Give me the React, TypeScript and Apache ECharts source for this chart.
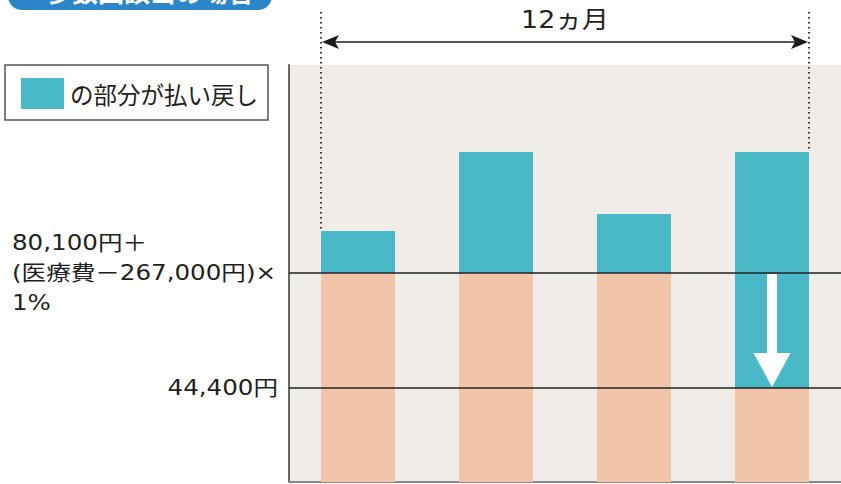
import React, { useEffect, useRef } from "react";
import * as echarts from "echarts";

// Schematic heights (arbitrary units, 0 = plot bottom)
const months = ["A", "B", "C", "D"];
const selfPay = [209, 209, 209, 94]; // peach part (amount you pay)
const refund = [42, 121, 59, 236]; // teal part (refunded)
const limitLevels = [209, 94];
const limitLabels = ["80,100円＋\n(医療費－267,000円)×\n1%", "44,400円"];
const spanLabel = "12ヵ月";
const legendLabel = "の部分が払い戻し";
const badgeLabel = "多数回該当の場合";

const TEAL = "#49b9c7";
const PEACH = "#f2c4a9";
const BG = "#f0ede8";
const TXT = "#231f20";
const FONT = "'DejaVu Sans', 'Noto Sans CJK JP', sans-serif";
const CJK = "'Noto Sans CJK JP', sans-serif";
const BAR_W = 74;

export default function App() {
  const ref = useRef<HTMLDivElement>(null);
  useEffect(() => {
    if (!ref.current) return;
    const chart = echarts.init(ref.current, undefined, { renderer: "svg" });
    chart.setOption({
      animation: false,
      backgroundColor: "#ffffff",
      grid: {
        left: 289,
        right: 0,
        top: 65,
        bottom: 2,
        show: true,
        backgroundColor: BG,
        borderWidth: 0,
      },
      xAxis: {
        type: "category",
        data: months,
        axisLine: { show: true, lineStyle: { color: "#8a8a8a", width: 2 } },
        axisTick: { show: false },
        axisLabel: { show: false },
      },
      yAxis: {
        type: "value",
        min: 0,
        max: 417,
        axisLine: { show: true, lineStyle: { color: "#666", width: 2 } },
        axisTick: { show: false },
        axisLabel: { show: false },
        splitLine: { show: false },
      },
      series: [
        {
          type: "bar",
          stack: "t",
          barWidth: BAR_W,
          data: selfPay,
          itemStyle: { color: PEACH },
          z: 2,
        },
        {
          type: "bar",
          stack: "t",
          barWidth: BAR_W,
          data: refund,
          itemStyle: { color: TEAL },
          z: 2,
          markLine: {
            silent: true,
            symbol: ["none", "none"],
            label: { show: false },
            lineStyle: { color: "#222", width: 1.5, type: "solid" },
            data: limitLevels.map((v) => ({ yAxis: v })),
            z: 5,
          },
        },
      ],
    });

    const px = (i: number, v: number) =>
      chart.convertToPixel({ gridIndex: 0 }, [i, v]) as number[];
    const last = months.length - 1;
    const topFirst = px(0, selfPay[0] + refund[0]);
    const topLast = px(last, selfPay[last] + refund[last]);
    const leftX = topFirst[0] - BAR_W / 2;
    const rightX = topLast[0] + BAR_W / 2;
    const arrowY = 42;
    const lineTopY = 12;
    const yHigh = px(0, limitLevels[0])[1];
    const yLow = px(0, limitLevels[1])[1];
    const cx = topLast[0];
    const SX = 1.17;

    const graphics: any[] = [
      // badge (cut at top)
      {
        type: "rect",
        shape: { x: 8, y: -30, width: 264, height: 40, r: 14 },
        style: { fill: "#2a86c8" },
      },
      {
        type: "text",
        x: 150,
        y: 3,
        style: {
          text: badgeLabel,
          fill: "#fff",
          font: `bold 26px ${CJK}`,
          textAlign: "center",
          textVerticalAlign: "bottom",
        },
      },
      // legend box
      {
        type: "rect",
        shape: { x: 5, y: 65, width: 263, height: 55 },
        style: { fill: "#fff", stroke: "#555", lineWidth: 1.5 },
      },
      {
        type: "rect",
        shape: { x: 21, y: 78, width: 43, height: 31 },
        style: { fill: TEAL },
      },
      {
        type: "text",
        x: 70,
        y: 94,
        style: {
          text: legendLabel,
          fill: TXT,
          font: `23.5px ${CJK}`,
          textVerticalAlign: "middle",
        },
      },
      // dotted span lines
      {
        type: "line",
        shape: { x1: leftX, y1: lineTopY, x2: leftX, y2: topFirst[1] },
        style: { stroke: "#333", lineWidth: 2, lineDash: [1.5, 3.5] },
        z: 10,
      },
      {
        type: "line",
        shape: { x1: rightX, y1: lineTopY, x2: rightX, y2: topLast[1] },
        style: { stroke: "#333", lineWidth: 2, lineDash: [1.5, 3.5] },
        z: 10,
      },
      // double arrow
      {
        type: "line",
        shape: { x1: leftX + 10, y1: arrowY, x2: rightX - 10, y2: arrowY },
        style: { stroke: "#555", lineWidth: 2 },
      },
      {
        type: "polygon",
        shape: {
          points: [
            [leftX + 1, arrowY],
            [leftX + 18, arrowY - 7],
            [leftX + 14, arrowY],
            [leftX + 18, arrowY + 7],
          ],
        },
        style: { fill: "#1a1a1a" },
      },
      {
        type: "polygon",
        shape: {
          points: [
            [rightX - 1, arrowY],
            [rightX - 18, arrowY - 7],
            [rightX - 14, arrowY],
            [rightX - 18, arrowY + 7],
          ],
        },
        style: { fill: "#1a1a1a" },
      },
      {
        type: "text",
        x: (leftX + rightX) / 2,
        y: 20,
        scaleX: 1.12,
        style: {
          text: spanLabel,
          fill: TXT,
          font: `24px ${FONT}`,
          textAlign: "center",
          textVerticalAlign: "middle",
        },
      },
      // white down arrow in last bar
      {
        type: "polygon",
        shape: {
          points: [
            [cx - 5, yHigh + 1],
            [cx + 5, yHigh + 1],
            [cx + 5, yLow - 35],
            [cx + 18.5, yLow - 35],
            [cx, yLow - 1],
            [cx - 18.5, yLow - 35],
            [cx - 5, yLow - 35],
          ],
        },
        style: { fill: "#fff" },
        z: 20,
      },
      // left labels
      {
        type: "text",
        x: 12,
        y: yHigh,
        scaleX: SX,
        style: {
          text: limitLabels[0],
          fill: TXT,
          font: `21px ${FONT}`,
          lineHeight: 30,
          textVerticalAlign: "middle",
        },
      },
      {
        type: "text",
        x: 278,
        y: yLow,
        scaleX: SX,
        style: {
          text: limitLabels[1],
          fill: TXT,
          font: `21px ${FONT}`,
          textAlign: "right",
          textVerticalAlign: "middle",
        },
      },
    ];
    chart.setOption({ graphic: graphics });
    return () => chart.dispose();
  }, []);
  return (
    <div
      ref={ref}
      style={{ position: "absolute", left: 0, top: 0, width: 841, height: 484 }}
    />
  );
}
